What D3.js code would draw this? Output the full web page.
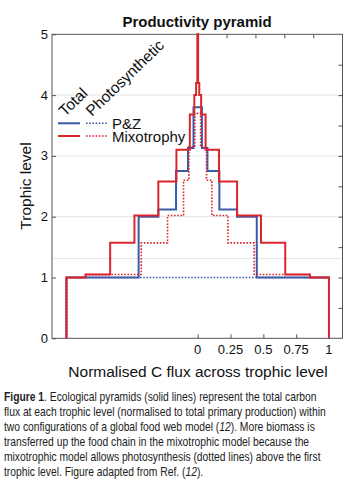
<html>
<head>
<script src="https://d3js.org/d3.v7.min.js"></script>
<style>
  body { margin: 0; background: #fff; }
  text { font-family: "Liberation Sans", Arial, sans-serif; }
</style>
</head>
<body>
<svg id="chart" width="350" height="499"></svg>
<script>
// trophic level breakpoints and half-widths (normalised C flux) for each pyramid
const redTotalLevels = [0, 1, 1.05, 1.57, 2.02, 2.58, 3.1, 3.68, 4.0, 4.2, 5];
const redTotalHalf   = [1.0, 0.855, 0.667, 0.482, 0.30, 0.162, 0.06, 0.026, 0.012, 0.003];
const blueTotalLevels = [0, 1, 2.0, 2.12, 2.75, 3.13, 3.8];
const blueTotalHalf   = [1.0, 0.45, 0.30, 0.165, 0.074, 0.032];
const redPhotoLevels = [0, 1, 1.05, 1.57, 2.02, 2.6, 3.15, 3.7];
const redPhotoHalf   = [1.0, 0.855, 0.43, 0.23, 0.108, 0.067, 0.022];
const bluePhotoLevels = [0, 1];
const bluePhotoHalf   = [1.0];

const yTicks = [0, 1, 2, 3, 4, 5];
const yMinorTicks = [0.5, 1, 1.5, 2, 2.5, 3, 3.5, 4, 4.5];
const xTicks = [0, 0.25, 0.5, 0.75, 1];
const xTopTicks = [0.22, 0.44, 0.66, 0.88];
const gridLevels = [1.31, 2, 3, 4];

const captionLines = [
  [{t: "Figure 1", b: true}, {t: ". Ecological pyramids (solid lines) represent the total carbon"}],
  [{t: "flux at each trophic level (normalised to total primary production) within"}],
  [{t: "two configurations of a global food web model ("}, {t: "12", i: true}, {t: "). More biomass is"}],
  [{t: "transferred up the food chain in the mixotrophic model because the"}],
  [{t: "mixotrophic model allows photosynthesis (dotted lines) above the first"}],
  [{t: "trophic level. Figure adapted from Ref. ("}, {t: "12", i: true}, {t: ")."}]
];
const captionRefWidth = 322; // width of the second caption line

const RED = '#d9262e', BLUE = '#3b5aa8';

const svg = d3.select('svg#chart');
const pLeft = 52, pRight = 342.5, pTop = 34.3, pBottom = 338.3;

const x = d3.scaleLinear().domain([-1.11, 1.103]).range([pLeft, pRight]);
const y = d3.scaleLinear().domain([0, 5]).range([pBottom, pTop]);

// faint grid
svg.append('g').selectAll('line').data(gridLevels).join('line')
   .attr('x1', pLeft).attr('x2', pRight)
   .attr('y1', d => y(d)).attr('y2', d => y(d))
   .attr('stroke', '#e6e6e6').attr('stroke-width', 1);

// axes with inward ticks
svg.append('g').attr('transform', `translate(${pLeft},0)`)
   .call(d3.axisRight(y).tickValues(yTicks).tickSize(4).tickFormat(''))
   .call(g => g.select('.domain').remove());
svg.append('g').attr('transform', `translate(${pRight},0)`)
   .call(d3.axisLeft(y).tickValues(yMinorTicks).tickSize(4).tickFormat(''))
   .call(g => g.select('.domain').remove());
svg.append('g').attr('transform', `translate(0,${pBottom})`)
   .call(d3.axisTop(x).tickValues(xTicks).tickSize(4).tickFormat(''))
   .call(g => g.select('.domain').remove());
svg.append('g').attr('transform', `translate(0,${pTop})`)
   .call(d3.axisBottom(x).tickValues(xTopTicks).tickSize(4).tickFormat(''))
   .call(g => g.select('.domain').remove());
svg.selectAll('.tick line').attr('stroke', '#555');

svg.append('rect')
   .attr('x', pLeft).attr('y', pTop)
   .attr('width', pRight - pLeft).attr('height', pBottom - pTop)
   .attr('fill', 'none').attr('stroke', '#555').attr('stroke-width', 1);

// tick labels
svg.append('g').selectAll('text').data(yTicks).join('text')
   .attr('x', pLeft - 4).attr('y', d => y(d) + 4.5)
   .attr('text-anchor', 'end').attr('font-size', 13).attr('fill', '#111')
   .text(d => d);
svg.append('g').selectAll('text').data(xTicks).join('text')
   .attr('x', d => x(d)).attr('y', 353.5)
   .attr('text-anchor', 'middle').attr('font-size', 13).attr('fill', '#111')
   .text(d => d);

// pyramids
function stepPoints(levels, half) {
  const pts = [];
  half.forEach((h, i) => { pts.push([-h, levels[i]], [-h, levels[i + 1]]); });
  for (let i = half.length - 1; i >= 0; i--) {
    pts.push([half[i], levels[i + 1]], [half[i], levels[i]]);
  }
  return pts;
}
const line = d3.line().x(d => x(d[0])).y(d => y(d[1]));

const series = [
  {lv: bluePhotoLevels, h: bluePhotoHalf, c: BLUE, dash: true},
  {lv: blueTotalLevels, h: blueTotalHalf, c: BLUE, dash: false},
  {lv: redTotalLevels, h: redTotalHalf, c: RED, dash: false},
  {lv: redPhotoLevels, h: redPhotoHalf, c: RED, dash: true}
];
svg.append('g').selectAll('path').data(series).join('path')
   .attr('d', d => line(stepPoints(d.lv, d.h)))
   .attr('fill', 'none')
   .attr('stroke', d => d.c)
   .attr('stroke-width', d => d.dash ? 1.6 : 2)
   .attr('stroke-dasharray', d => d.dash ? '1.6,1.6' : null);

// legend
const legend = svg.append('g');
const legendRows = [{label: 'P&Z', c: BLUE, y: 123.3}, {label: 'Mixotrophy', c: RED, y: 136}];
legendRows.forEach(r => {
  legend.append('line').attr('x1', 58).attr('x2', 80).attr('y1', r.y).attr('y2', r.y)
        .attr('stroke', r.c).attr('stroke-width', 2);
  legend.append('line').attr('x1', 86).attr('x2', 107).attr('y1', r.y).attr('y2', r.y)
        .attr('stroke', r.c).attr('stroke-width', 1.6).attr('stroke-dasharray', '1.6,1.6');
  legend.append('text').attr('x', 112).attr('y', r.y + 5.5)
        .attr('font-size', 15).attr('fill', '#111').text(r.label);
});
legend.append('text').attr('transform', 'translate(65,117) rotate(-44)')
      .attr('font-size', 15.5).attr('fill', '#111').text('Total');
legend.append('text').attr('transform', 'translate(92,117) rotate(-44)')
      .attr('font-size', 15.5).attr('fill', '#111').text('Photosynthetic');

// titles
svg.append('text').attr('x', 197).attr('y', 27)
   .attr('text-anchor', 'middle').attr('font-size', 15).attr('font-weight', 'bold')
   .attr('fill', '#111').text('Productivity pyramid');
svg.append('text').attr('transform', 'translate(31,186) rotate(-90)')
   .attr('text-anchor', 'middle').attr('font-size', 15.5).attr('fill', '#111')
   .text('Trophic level');
svg.append('text').attr('x', 198).attr('y', 377)
   .attr('text-anchor', 'middle').attr('font-size', 15.5).attr('fill', '#111')
   .text('Normalised C flux across trophic level');

// caption: condensed look by squeezing all lines horizontally by one factor
const cap = svg.append('g');
const capGroups = captionLines.map((parts, i) => {
  const g = cap.append('g');
  const t = g.append('text')
     .attr('x', 0).attr('y', 0)
     .attr('font-size', 13).attr('fill', '#222');
  parts.forEach(p => {
    t.append('tspan')
     .attr('font-weight', p.b ? 'bold' : null)
     .attr('font-style', p.i ? 'italic' : null)
     .text(p.t);
  });
  return {g, t};
});
const k = captionRefWidth / capGroups[1].t.node().getComputedTextLength();
capGroups.forEach((c, i) => {
  c.g.attr('transform', `translate(4,${400.5 + i * 15.1}) scale(${k},1)`);
});
</script>
</body>
</html>
